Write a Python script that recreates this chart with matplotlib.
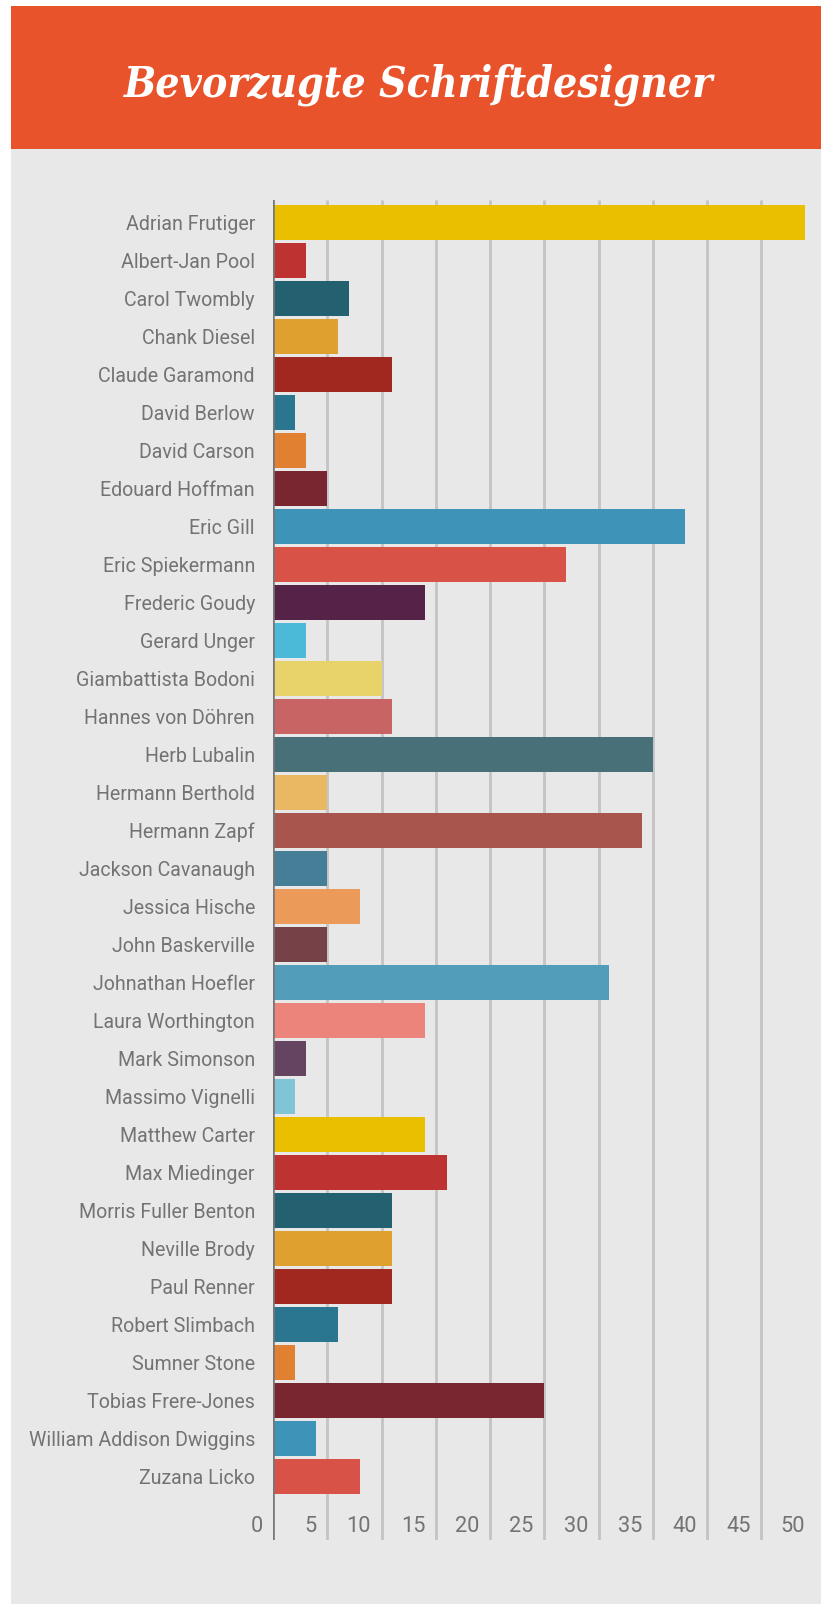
import matplotlib
matplotlib.use('Agg')
import matplotlib.pyplot as plt
import matplotlib.transforms as mtransforms
from matplotlib import font_manager
from matplotlib.patches import Rectangle

# Daten
designers = [
    'Adrian Frutiger', 'Albert-Jan Pool', 'Carol Twombly', 'Chank Diesel',
    'Claude Garamond', 'David Berlow', 'David Carson', 'Edouard Hoffman',
    'Eric Gill', 'Eric Spiekermann', 'Frederic Goudy', 'Gerard Unger',
    'Giambattista Bodoni', 'Hannes von Döhren', 'Herb Lubalin', 'Hermann Berthold',
    'Hermann Zapf', 'Jackson Cavanaugh', 'Jessica Hische', 'John Baskerville',
    'Johnathan Hoefler', 'Laura Worthington', 'Mark Simonson', 'Massimo Vignelli',
    'Matthew Carter', 'Max Miedinger', 'Morris Fuller Benton', 'Neville Brody',
    'Paul Renner', 'Robert Slimbach', 'Sumner Stone', 'Tobias Frere-Jones',
    'William Addison Dwiggins', 'Zuzana Licko',
]
votes = [49, 3, 7, 6, 11, 2, 3, 5, 38, 27, 14, 3,
         10, 11, 35, 5, 34, 5, 8, 5, 31, 14, 3, 2,
         14, 16, 11, 11, 11, 6, 2, 25, 4, 8]
palette = [
    '#EABF00', '#BE3232', '#246170', '#E0A030', '#A0281E', '#2A7590',
    '#E08030', '#7A2630', '#3D94B8', '#D85248', '#562348', '#4BB9D8',
    '#E8D36A', '#C86464', '#477078', '#EAB862', '#A8554E', '#467E98',
    '#EC9A5A', '#764248', '#529EBA', '#EC847C', '#644460', '#80C4D8',
]
tick_values = list(range(0, 55, 5))
grid_values = list(range(5, 50, 5))

W, H = 821, 1604
LABEL_FONT = ['Roboto', 'DejaVu Sans']

# schmale Serifenschrift fuer den Titel suchen
cond = [f.fname for f in font_manager.fontManager.ttflist
        if 'SerifCondensed-BoldItalic' in f.fname]
if cond:
    title_font = font_manager.FontProperties(fname=cond[0], size=34)
else:
    title_font = font_manager.FontProperties(family='DejaVu Serif', stretch='condensed',
                                             weight='bold', style='italic', size=34)

fig = plt.figure(figsize=(W / 100, H / 100), dpi=100)
fig.patch.set_facecolor('white')

# Hintergrund und Kopfbereich
fig.patches.append(Rectangle((11 / W, 0), (W - 11) / W, 1 - 149 / H,
                             transform=fig.transFigure, facecolor='#E8E8E8',
                             edgecolor='none', zorder=-2))
fig.patches.append(Rectangle((11 / W, 1 - 149 / H), (W - 11) / W, 143 / H,
                             transform=fig.transFigure, facecolor='#E8532B',
                             edgecolor='none', zorder=-2))

title = fig.text(419 / W, 1 - 96 / H, 'Bevorzugte Schriftdesigner',
                 ha='center', va='baseline', color='white',
                 fontproperties=title_font)

# Diagramm
ax_left, ax_top, ax_bottom = 273, 200, 1540
ax = fig.add_axes([ax_left / W, 1 - ax_bottom / H, (W - ax_left) / W,
                   (ax_bottom - ax_top) / H])
ax.set_facecolor('none')
n = len(designers)
pitch = 38.0
first_center = 222.5
ax.set_ylim((ax_bottom - first_center) / pitch, -(first_center - ax_top) / pitch)
ax.set_xlim(0, (W - ax_left) / 10.85)

colors = [palette[i % len(palette)] for i in range(n)]
ax.barh(range(n), votes, height=35 / pitch, color=colors, zorder=3)

trans = mtransforms.blended_transform_factory(ax.transData, ax.transAxes)
ax.vlines(grid_values, 0, 1, transform=trans, color='#C4C4C4', linewidth=2.0, zorder=1)
ax.axvline(0, color='#777777', linewidth=2.6, zorder=4)

for s in ax.spines.values():
    s.set_visible(False)
ax.set_xticks([])
ax.set_yticks(range(n))
ax.set_yticklabels(designers, family=LABEL_FONT, fontsize=16.5, color='#737373')
ax.tick_params(axis='y', length=0, pad=13)
for lab in ax.get_yticklabels():
    lab.set_verticalalignment('center_baseline')

tick_trans = mtransforms.offset_copy(trans, fig=fig, x=-10.5, y=0, units='dots')
tick_texts = []
for v in tick_values:
    t = ax.text(v, 8.3 / (ax_bottom - ax_top), str(v), transform=tick_trans,
                ha='right', va='baseline', fontsize=16,
                family=LABEL_FONT, color='#737373')
    tick_texts.append(t)

# Schriftgroessen an die Breiten des Originals anpassen
fig.canvas.draw()
tw = title.get_window_extent().width
title.set_fontsize(34 * 590 / tw)
widest = max(lab.get_window_extent().width for lab in ax.get_yticklabels())
label_size = 16.5 * 226 / widest
for lab in ax.get_yticklabels():
    lab.set_fontsize(label_size)
for t in tick_texts:
    t.set_fontsize(min(label_size + 1.5, 17))

fig.savefig('out.png', dpi=100, facecolor=fig.get_facecolor())
